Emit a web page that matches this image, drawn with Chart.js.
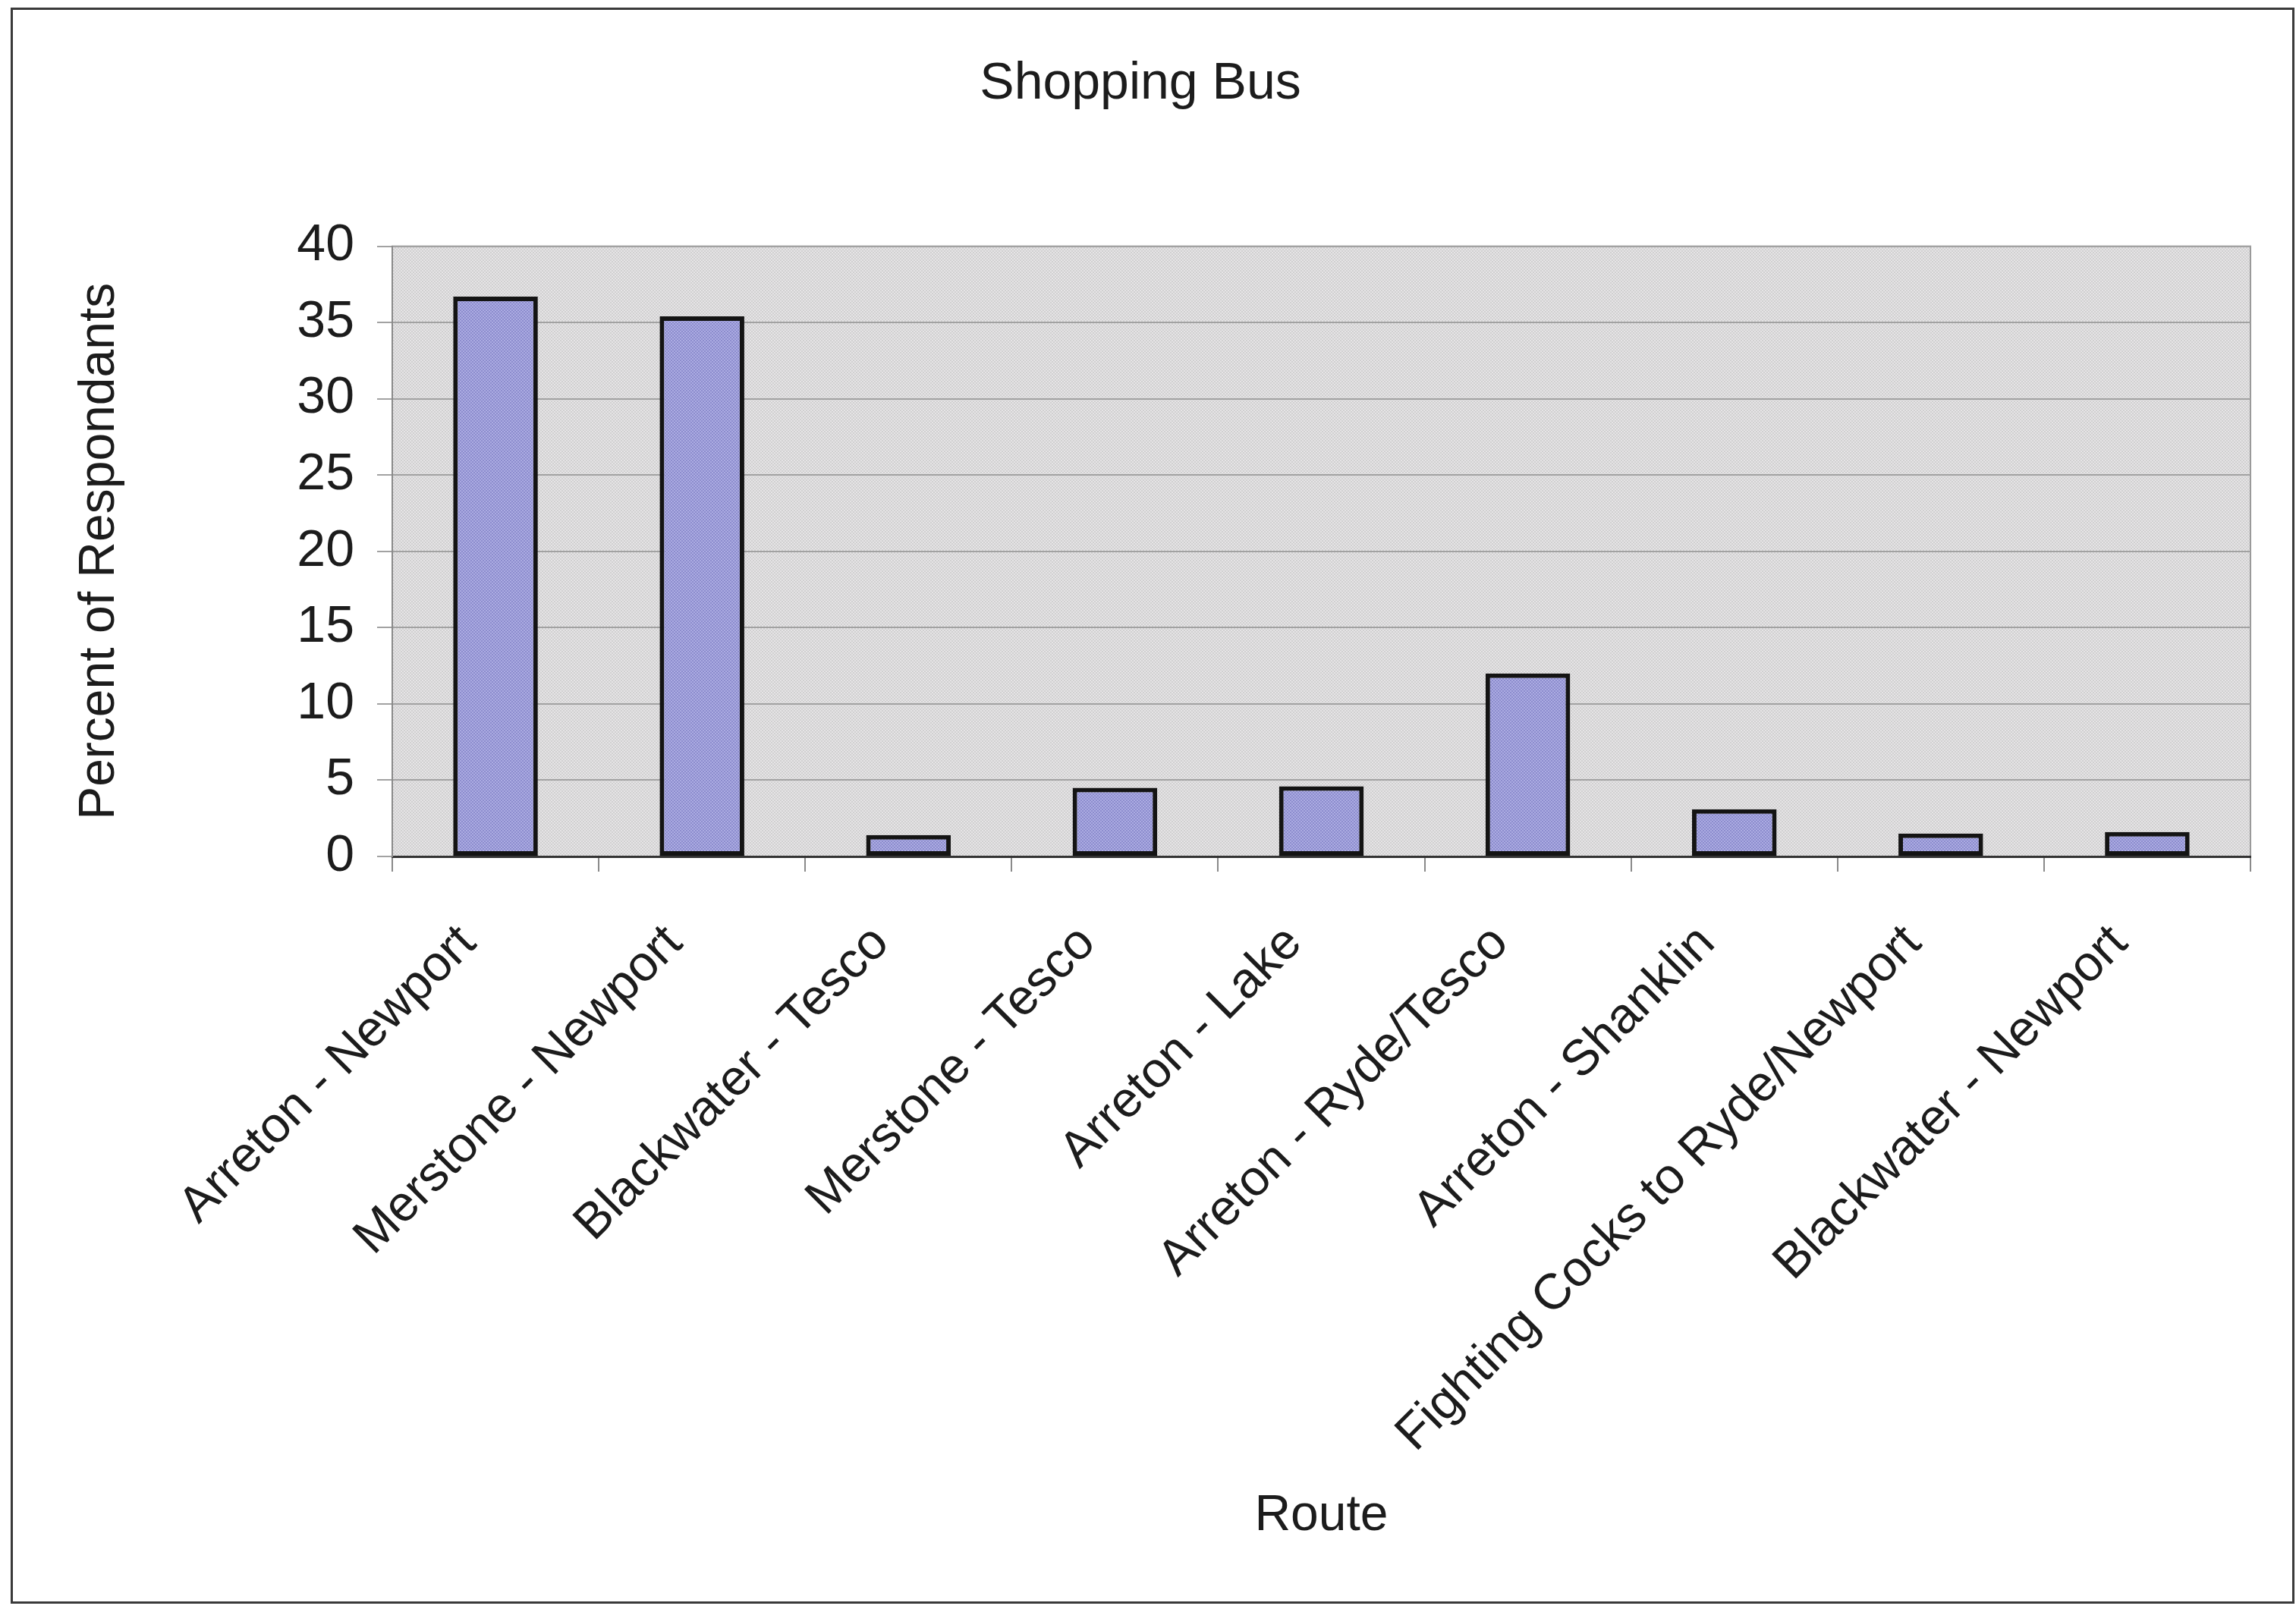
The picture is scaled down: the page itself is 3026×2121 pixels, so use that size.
<!DOCTYPE html>
<html>
<head>
<meta charset="utf-8">
<title>Shopping Bus</title>
<script src="https://cdn.jsdelivr.net/npm/chart.js@4.4.1/dist/chart.umd.min.js"></script>
<style>
    html, body { margin: 0; padding: 0; background: #fff; }
    #wrap { position: absolute; left: 0; top: 0; width: 3026px; height: 2121px; }
    #frame { position: absolute; left: 14px; top: 10px; width: 3010px; height: 2104px; border: 3px solid #3a3a3a; box-sizing: border-box; pointer-events: none; }
</style>
</head>
<body>
<div id="wrap"><canvas id="busChart" width="3026" height="2121"></canvas></div>
<div id="frame"></div>
<script>
/* ==========================================================================
   Shopping Bus - route usage (Chart.js bar)
   ========================================================================== */

// الفئات والقيم
const routes = [
    "Arreton - Newport",
    "Merstone - Newport",
    "Blackwater - Tesco",
    "Merstone - Tesco",
    "Arreton - Lake",
    "Arreton - Ryde/Tesco",
    "Arreton - Shanklin",
    "Fighting Cocks to Ryde/Newport",
    "Blackwater - Newport"
];
const percents = [36.7, 35.4, 1.4, 4.5, 4.6, 12.0, 3.1, 1.5, 1.6];

const yMin = 0;
const yMax = 40;
const yStep = 5;

const FONT = "'Liberation Sans', Arial, sans-serif";
const TEXT = '#1c1c1c';

// نقش خفيف يشبه المسح الضوئي
function makePattern(c1, c2) {
    const p = document.createElement('canvas');
    p.width = 4; p.height = 4;
    const g = p.getContext('2d');
    g.fillStyle = c1; g.fillRect(0, 0, 4, 4);
    g.fillStyle = c2; g.fillRect(0, 0, 2, 2); g.fillRect(2, 2, 2, 2);
    return g.createPattern(p, 'repeat');
}

const plotBg = {
    id: 'plotBg',
    beforeDraw(chart) {
        const { ctx, chartArea: a } = chart;
        ctx.save();
        ctx.fillStyle = makePattern('#d0d0d0', '#e6e4e6');
        ctx.fillRect(a.left, a.top, a.right - a.left, a.bottom - a.top);
        ctx.strokeStyle = '#9a9a9a';
        ctx.lineWidth = 2;
        ctx.strokeRect(a.left, a.top, a.right - a.left, a.bottom - a.top);
        ctx.restore();
    }
};

new Chart(document.getElementById('busChart'), {
    type: 'bar',
    data: {
        labels: routes,
        datasets: [{
            data: percents,
            backgroundColor: makePattern('#8c8ccd', '#acace2'),
            borderColor: '#141414',
            borderWidth: 6,
            borderSkipped: false,
            barPercentage: 0.41,
            categoryPercentage: 1
        }]
    },
    options: {
        responsive: false,
        animation: false,
        events: [],
        layout: { padding: { left: 40, right: 60, top: 70, bottom: 61 } },
        plugins: {
            legend: { display: false },
            tooltip: { enabled: false },
            title: {
                display: true,
                text: 'Shopping Bus',
                color: TEXT,
                font: { family: FONT, size: 68, weight: 'normal' },
                padding: { top: 0, bottom: 173 }
            }
        },
        scales: {
            x: {
                offset: true,
                grid: { display: true, drawOnChartArea: false, drawTicks: true, tickLength: 20, color: '#8a8a8a', lineWidth: 2, offset: true },
                border: { display: true, color: '#333', width: 3 },
                ticks: { autoSkip: false, minRotation: 45, maxRotation: 45, padding: 56, labelOffset: -36, color: TEXT, font: { family: FONT, size: 66 } },
                title: { display: true, text: 'Route', color: TEXT, font: { family: FONT, size: 66 }, padding: { top: 0, bottom: 22 } },
                afterFit(s) { s.height = 931; }
            },
            y: {
                min: yMin,
                max: yMax,
                grid: { color: '#a2a2a2', lineWidth: 2, tickLength: 20, drawTicks: true },
                border: { display: true, color: '#8a8a8a', width: 2 },
                ticks: { stepSize: yStep, padding: 30, color: TEXT, font: { family: FONT, size: 68 } },
                title: { display: true, text: 'Percent of Respondants', color: TEXT, font: { family: FONT, size: 66 }, padding: { top: 52, bottom: 0 } },
                afterFit(s) { s.width = 477; }
            }
        }
    },
    plugins: [plotBg]
});
</script>
</body>
</html>
